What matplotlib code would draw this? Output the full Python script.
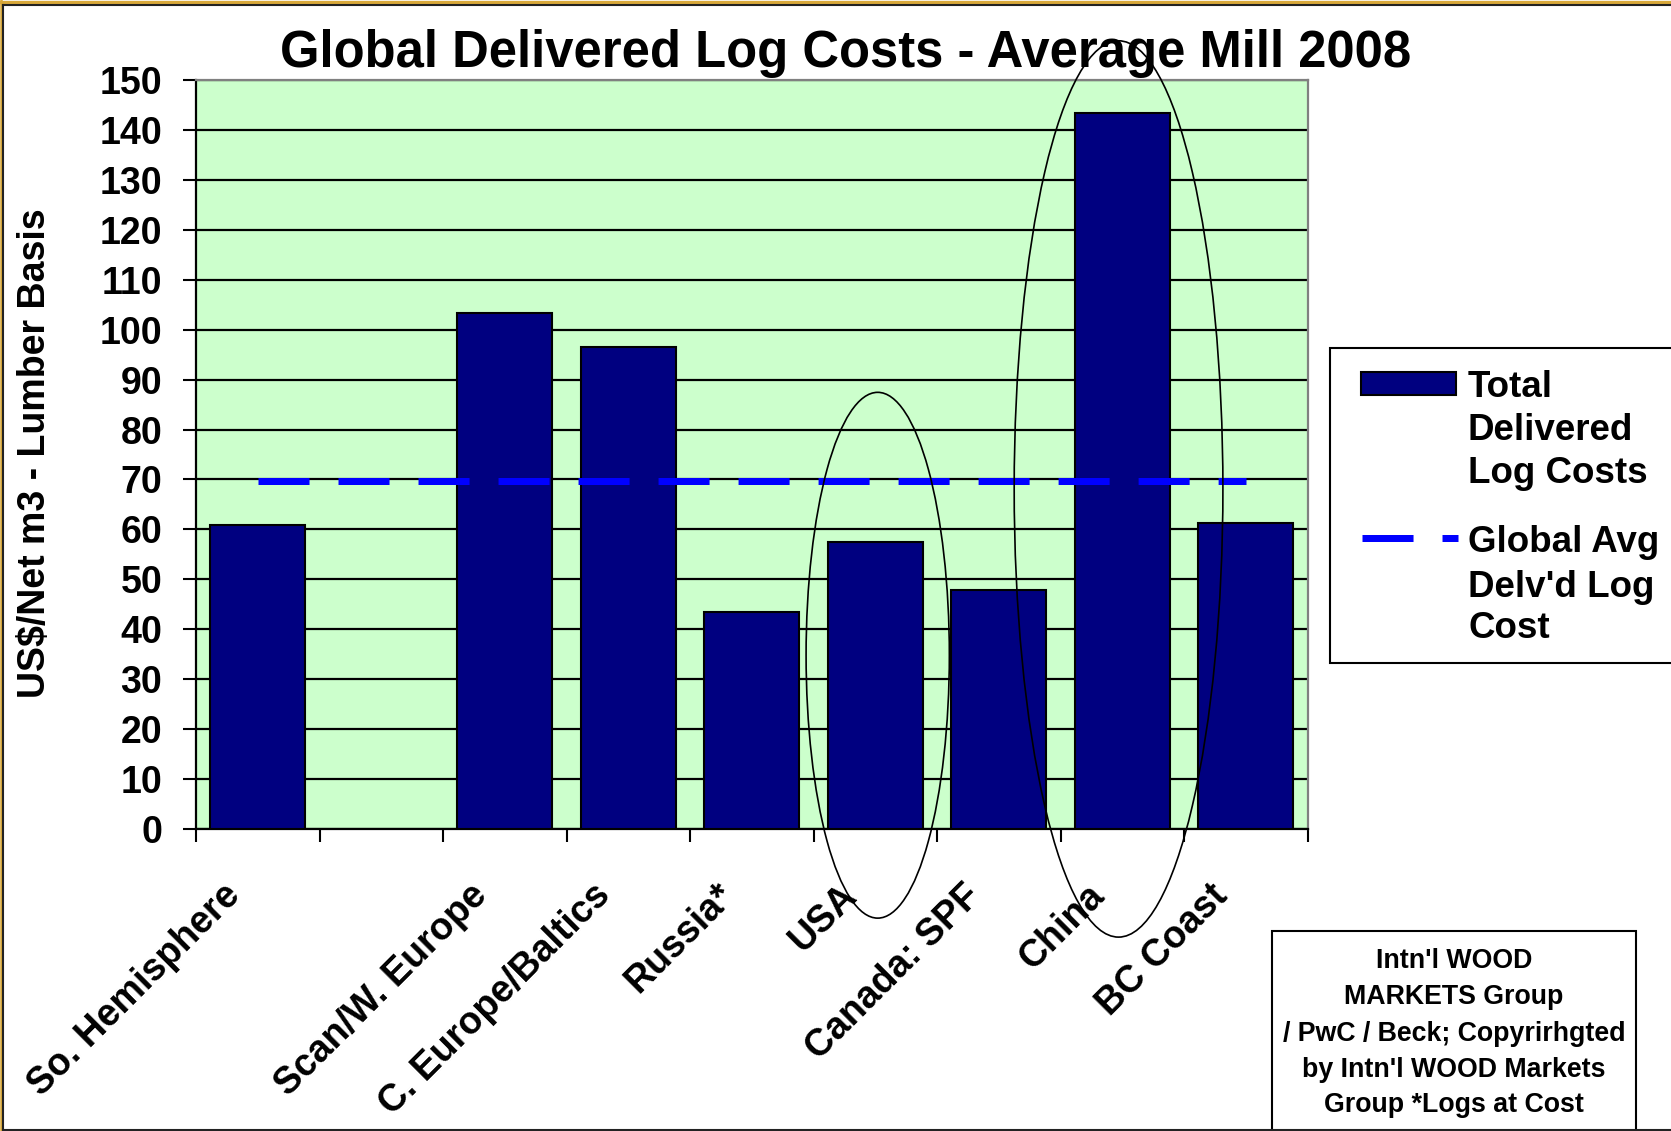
import matplotlib
matplotlib.use("Agg")
import matplotlib.pyplot as plt
from matplotlib.patches import Ellipse, Rectangle
from matplotlib.lines import Line2D
import numpy as np

# ---------------- data ----------------
categories = ['So. Hemisphere', '', 'Scan/W. Europe', 'C. Europe/Baltics', 'Russia*',
              'USA', 'Canada: SPF', 'China', 'BC Coast']
log_costs = [60.8, np.nan, 103.3, 96.6, 43.5, 57.4, 47.8, 143.3, 61.2]
global_avg = 69.6
yticks = list(range(0, 151, 10))
title = 'Global Delivered Log Costs - Average Mill 2008'
ylabel = 'US$/Net m3 - Lumber Basis'
legend_bar_lines = ['Total', 'Delivered', 'Log Costs']
legend_avg_lines = ['Global Avg', "Delv'd Log", 'Cost']
source_lines = ["Intn'l WOOD", 'MARKETS Group', '/ PwC / Beck; Copyrirhgted',
                "by Intn'l WOOD Markets", 'Group *Logs at Cost']
# highlighted groups (ellipses): (centre x, centre y, width, height) in data units
highlights = [(5.02, 34.8, 1.16, 105.3), (6.97, 68.1, 1.69, 179.5)]

plt.rcParams['font.family'] = ['Liberation Sans', 'DejaVu Sans']
plt.rcParams['font.weight'] = 'bold'

W, H = 1671, 1131
DPI = 100
fig = plt.figure(figsize=(W / DPI, H / DPI), dpi=DPI)
fig.patch.set_facecolor('white')


def fx(x):
    return x / W


def fy(y):
    return 1 - y / H


NAVY = '#000080'
BLUE = '#0000FF'

ax = fig.add_axes([fx(196), fy(829), 1111.5 / W, 749 / H])
ax.set_facecolor('#CCFFCC')
xpos = np.arange(len(categories))

ax.bar(xpos, log_costs, width=0.77, color=NAVY, edgecolor='black', linewidth=1.5, zorder=3)
ax.plot([xpos[0], xpos[-1]], [global_avg, global_avg], color=BLUE, lw=5.04,
        linestyle=(0, (7.29, 4.14)), dash_capstyle='butt', zorder=4)

for (cx, cy, w, h) in highlights:
    ax.add_patch(Ellipse((cx, cy), w, h, fill=False, edgecolor='black', lw=1.2,
                         clip_on=False, zorder=6))

ax.set_xlim(-0.5, len(categories) - 0.5)
ax.set_ylim(0, 150)
ax.set_yticks(yticks)
ax.set_yticklabels([str(t) for t in yticks])
ax.yaxis.grid(True, color='black', lw=1.6, zorder=1)
ax.set_axisbelow(True)

# major x ticks at category boundaries, labels on minor ticks
ax.set_xticks(np.arange(-0.5, len(categories), 1.0))
ax.set_xticklabels([])
ax.set_xticks(xpos - 0.19, minor=True)
ax.set_xticklabels(categories, minor=True, rotation=45, ha='right', va='center',
                   rotation_mode='anchor', fontsize=27, fontweight='bold')
ax.tick_params(axis='x', which='major', length=9.4, width=1.5, direction='out')
ax.tick_params(axis='x', which='minor', length=0, pad=44)
ax.tick_params(axis='y', length=9.4, width=1.5, pad=15, labelsize=27, direction='out')
for lbl in ax.get_yticklabels():
    lbl.set_fontweight('bold')

for s in ['left', 'bottom']:
    ax.spines[s].set_color('black')
    ax.spines[s].set_linewidth(1.6)
for s in ['top', 'right']:
    ax.spines[s].set_color('#808080')
    ax.spines[s].set_linewidth(1.6)

ax.set_title(title, x=0.5848, pad=9.4, fontsize=36.5, fontweight='bold')

fig.text(fx(35.5), fy(453), ylabel, rotation=90, ha='center', va='center',
         fontsize=27, fontweight='bold')

# ---------------- legend (drawn by hand to match the Excel layout) ----------------
fig.add_artist(Rectangle((fx(1330), fy(663)), (1720 - 1330) / W, (663 - 348) / H,
                         transform=fig.transFigure, fill=True, facecolor='white',
                         edgecolor='black', lw=1.5))
fig.add_artist(Rectangle((fx(1361), fy(395)), 95 / W, 23 / H, transform=fig.transFigure,
                         facecolor=NAVY, edgecolor='black', lw=1.5))
fig.add_artist(Line2D([fx(1362), fx(1458)], [fy(537.7), fy(537.7)], transform=fig.transFigure,
                      color=BLUE, lw=5.04, linestyle=(0, (7.29, 4.14)), dash_capstyle='butt'))
for txt, yb in zip(legend_bar_lines, [397, 439.5, 483]):
    fig.text(fx(1468), fy(yb), txt, ha='left', va='baseline', fontsize=26.5, fontweight='bold')
for txt, yb in zip(legend_avg_lines, [552, 596.5, 638.5]):
    fig.text(fx(1468), fy(yb), txt, ha='left', va='baseline', fontsize=26.5, fontweight='bold')

# ---------------- source box ----------------
fig.add_artist(Rectangle((fx(1272), fy(1140)), (1636 - 1272) / W, (1140 - 931) / H,
                         transform=fig.transFigure, fill=False, edgecolor='black', lw=1.5))
for txt, yb in zip(source_lines, [968, 1004, 1041, 1077, 1112]):
    fig.text(fx(1454), fy(yb), txt, ha='center', va='baseline', fontsize=19.3, fontweight='bold')

# ---------------- slide frame ----------------
GOLD = '#D8A83A'
fig.add_artist(Line2D([0, 1], [fy(1.5), fy(1.5)], transform=fig.transFigure, color=GOLD, lw=2.4))
fig.add_artist(Line2D([fx(1.0), fx(1.0)], [0, 1], transform=fig.transFigure, color=GOLD, lw=1.8))
fig.add_artist(Line2D([fx(3.5), 1], [fy(4.5), fy(4.5)], transform=fig.transFigure, color='#222222', lw=1.5))
fig.add_artist(Line2D([fx(3.5), fx(3.5)], [fy(4.5), fy(1129.8)], transform=fig.transFigure, color='#222222', lw=1.5))
fig.add_artist(Line2D([fx(3.5), 1], [fy(1129.8), fy(1129.8)], transform=fig.transFigure, color='#222222', lw=1.5))

fig.savefig('out.png', dpi=DPI, facecolor='white')
